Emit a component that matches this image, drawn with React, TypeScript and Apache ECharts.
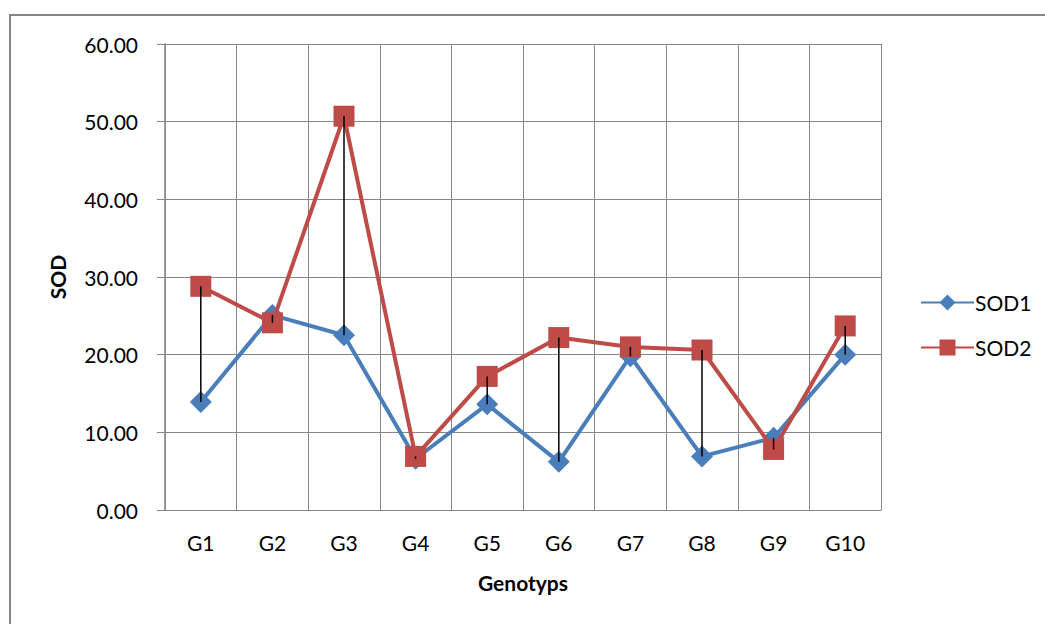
import React, { useEffect, useRef } from "react";
import * as echarts from "echarts";

// Genotype categories and the two SOD measurements
const genotypes = ["G1", "G2", "G3", "G4", "G5", "G6", "G7", "G8", "G9", "G10"];
const sod1 = [13.9, 25.1, 22.5, 6.6, 13.6, 6.2, 19.8, 6.9, 9.3, 20.0];
const sod2 = [28.8, 24.1, 50.7, 6.9, 17.2, 22.2, 21.0, 20.6, 7.8, 23.7];
const yTicks = [0, 10, 20, 30, 40, 50, 60];

const BLUE = "#4A7EBB";
const RED = "#BE4B48";
const GRID = "#868686";
const FONT = "Lato, 'Liberation Sans', sans-serif";

export default function App() {
  const ref = useRef<HTMLDivElement>(null);

  useEffect(() => {
    if (!ref.current) return;
    const chart = echarts.init(ref.current, undefined, { renderer: "svg" });

    // vertical high-low connectors between the two series at each genotype
    const highLow = genotypes.map((_, i) => [
      i,
      Math.min(sod1[i], sod2[i]),
      Math.max(sod1[i], sod2[i]),
    ]);

    chart.setOption({
      animation: false,
      backgroundColor: "#fff",
      textStyle: { fontFamily: FONT },
      graphic: [
        {
          // outer chart-area frame (top and left edges visible)
          type: "polyline",
          shape: { points: [[10, 800], [10, 15], [1200, 15]] },
          style: { fill: "none", stroke: GRID, lineWidth: 2 },
          z: -10,
          silent: true,
        },
      ],
      grid: { left: 165, right: 164, top: 44, bottom: 114, containLabel: false },
      legend: {
        data: ["SOD1", "SOD2"],
        orient: "vertical",
        left: 915,
        top: 287,
        itemWidth: 53,
        itemHeight: 20,
        itemGap: 24,
        textStyle: { fontSize: 21, color: "#000", fontFamily: FONT, padding: [0, 0, 0, -4] },
      },
      xAxis: {
        type: "category",
        data: genotypes,
        boundaryGap: true,
        name: "Genotyps",
        nameLocation: "middle",
        nameGap: 62,
        nameTextStyle: { fontSize: 21, fontWeight: "bold", color: "#000", fontFamily: FONT },
        axisLine: { show: true, lineStyle: { color: GRID, width: 1 } },
        axisTick: { show: false },
        axisLabel: { fontSize: 21, color: "#000", margin: 22, fontFamily: FONT },
        splitLine: { show: true, lineStyle: { color: GRID, width: 1 } },
      },
      yAxis: {
        type: "value",
        min: yTicks[0],
        max: yTicks[yTicks.length - 1],
        interval: 10,
        name: "SOD",
        nameLocation: "middle",
        nameGap: 97,
        nameRotate: 90,
        nameTextStyle: { fontSize: 21, fontWeight: "bold", color: "#000", fontFamily: FONT },
        axisLine: { show: true, lineStyle: { color: GRID, width: 1.5 } },
        axisTick: { show: true, length: 8, lineStyle: { color: GRID } },
        axisLabel: {
          fontSize: 21,
          color: "#000",
          margin: 27,
          fontFamily: FONT,
          formatter: (v: number) => v.toFixed(2),
        },
        splitLine: { show: true, lineStyle: { color: GRID, width: 1 } },
      },
      series: [
        {
          name: "SOD1",
          type: "line",
          data: sod1,
          symbol: "diamond",
          symbolSize: 22,
          lineStyle: { color: BLUE, width: 4 },
          itemStyle: { color: BLUE },
          z: 2,
        },
        {
          name: "SOD2",
          type: "line",
          data: sod2,
          symbol: "rect",
          symbolSize: 21,
          lineStyle: { color: RED, width: 4 },
          itemStyle: { color: RED },
          z: 3,
        },
        {
          name: "hl",
          type: "custom",
          data: highLow,
          z: 10,
          silent: true,
          renderItem: (_params: any, api: any) => {
            const a = api.coord([api.value(0), api.value(1)]);
            const b = api.coord([api.value(0), api.value(2)]);
            return {
              type: "line",
              shape: { x1: a[0], y1: a[1], x2: b[0], y2: b[1] },
              style: { stroke: "#000", lineWidth: 1.5 },
            };
          },
        },
      ],
    });

    return () => chart.dispose();
  }, []);

  return (
    <div
      ref={ref}
      style={{ position: "fixed", left: 0, top: 0, width: 1045, height: 624 }}
    />
  );
}
